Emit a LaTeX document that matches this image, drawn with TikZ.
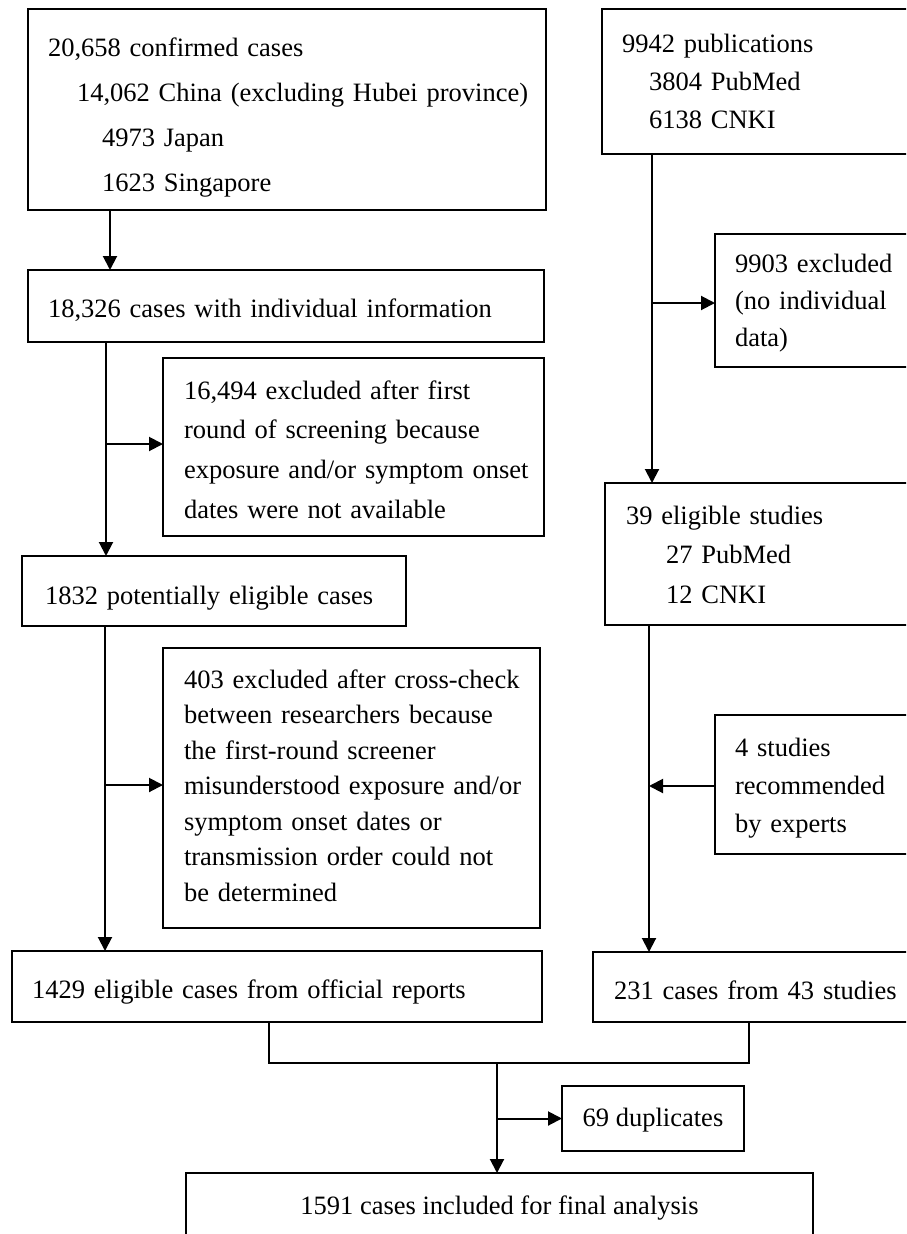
\documentclass[tikz,border=0pt]{standalone}
\usepackage{fontspec}
\setmainfont{Liberation Serif}
\usetikzlibrary{arrows.meta}
\newcommand\fs[1]{\fontsize{26.5pt}{#1pt}\selectfont}
\tikzset{
  box/.style={draw, line width=2pt, rectangle, anchor=north west, align=left,
              inner xsep=20pt, inner ysep=0pt, outer sep=0pt},
  arr/.style={line width=2pt, -{Triangle[length=14pt,width=14pt]}},
  ln/.style={line width=2pt}
}
\begin{document}
\begin{tikzpicture}[x=1pt,y=-1pt]
\useasboundingbox (0,0) rectangle (906,1234);
\clip (0,0) rectangle (906,1234);
% left column
\node[box, minimum width=518pt, minimum height=201pt, text width=478pt, text height=28pt, text depth=135pt, font={\fs{45}}] (A) at (28,9)
  {\mbox{20,658 confirmed cases}\\\mbox{\hspace*{29pt}14,062 China (excluding Hubei province)}\\\mbox{\hspace*{54pt}4973 Japan}\\\mbox{\hspace*{54pt}1623 Singapore}};
\node[box, minimum width=516pt, minimum height=72pt, text width=476pt, text height=22pt, text depth=0pt, font={\fs{36}}] (B) at (28,270)
  {\mbox{18,326 cases with individual information}};
\node[box, minimum width=381pt, minimum height=178pt, text width=339pt, inner xsep=21pt, text height=23.1pt, text depth=119.1pt, font={\fs{39.7}}] (C) at (163,358)
  {\mbox{16,494 excluded after first}\\\mbox{round of screening because}\\\mbox{exposure and/or symptom onset}\\\mbox{dates were not available}};
\node[box, minimum width=384pt, minimum height=70pt, text width=344pt, text height=26pt, text depth=0pt, font={\fs{36}}] (D) at (22,556)
  {\mbox{\hspace*{3pt}1832 potentially eligible cases}};
\node[box, minimum width=377pt, minimum height=280pt, text width=335pt, inner xsep=21pt, text height=13pt, text depth=213pt, font={\fs{35.5}}] (E) at (163,648)
  {\mbox{403 excluded after cross-check}\\\mbox{between researchers because}\\\mbox{the first-round screener}\\\mbox{misunderstood exposure and/or}\\\mbox{symptom onset dates or}\\\mbox{transmission order could not}\\\mbox{be determined}};
\node[box, minimum width=530pt, minimum height=71pt, text width=490pt, text height=23pt, text depth=0pt, font={\fs{36}}] (F) at (12,951)
  {\mbox{1429 eligible cases from official reports}};
% right column
\node[box, minimum width=318pt, minimum height=145pt, text width=278pt, text height=18pt, text depth=77pt, font={\fs{38.5}}] (R1) at (602,9)
  {\mbox{9942 publications}\\\mbox{\hspace*{27pt}3804 PubMed}\\\mbox{\hspace*{27pt}6138 CNKI}};
\node[box, minimum width=205pt, minimum height=133pt, text width=165pt, text height=17pt, text depth=74pt, font={\fs{37}}] (R2) at (715,234)
  {\mbox{9903 excluded}\\\mbox{(no individual}\\\mbox{data)}};
\node[box, minimum width=315pt, minimum height=142pt, text width=275pt, text height=19pt, text depth=79pt, font={\fs{39.5}}] (R3) at (605,483)
  {\mbox{\hspace*{1pt}39 eligible studies}\\\mbox{\hspace*{41pt}27 PubMed}\\\mbox{\hspace*{41pt}12 CNKI}};
\node[box, minimum width=205pt, minimum height=139pt, text width=165pt, text height=19pt, text depth=76pt, font={\fs{38}}] (R4) at (715,715)
  {\mbox{4 studies}\\\mbox{recommended}\\\mbox{by experts}};
\node[box, minimum width=327pt, minimum height=70pt, text width=287pt, text height=24pt, text depth=0pt, font={\fs{36}}] (R5) at (593,952)
  {\mbox{\hspace*{1pt}231 cases from 43 studies}};
% bottom
\node[box, minimum width=182pt, minimum height=65pt, align=center, inner xsep=0pt, text height=15pt, text depth=0pt, font={\fs{36}}] (G) at (562,1086)
  {69 duplicates};
\node[box, minimum width=627pt, minimum height=64pt, align=center, inner xsep=0pt, text height=18pt, text depth=0pt, font={\fs{36}}] (H) at (186,1173)
  {1591 cases included for final analysis};
% helper coordinates
\coordinate (mL) at (269,1063);
\coordinate (mR) at (749,1063);
\coordinate (mC) at (497,1063);
% connectors left
\draw[arr] (A.south -| 110,0) -- (B.north -| 110,0);
\draw[arr] (B.south -| 106,0) -- (D.north -| 106,0);
\draw[arr] (106,444) -- (C.west |- 0,444);
\draw[arr] (D.south -| 105,0) -- (F.north -| 105,0);
\draw[arr] (105,785) -- (E.west |- 0,785);
% connectors right
\draw[arr] (R1.south -| 652,0) -- (R3.north -| 652,0);
\draw[arr] (652,303) -- (R2.west |- 0,303);
\draw[arr] (R3.south -| 649,0) -- (R5.north -| 649,0);
\draw[arr] (R4.west |- 0,786) -- (649,786);
% merge
\draw[ln] (F.south -| mL) -- (mL) -- (mR) -- (R5.south -| mR);
\draw[arr] (mC) -- (H.north -| mC);
\draw[arr] (mC |- G.west) -- (G.west);
\end{tikzpicture}
\end{document}
